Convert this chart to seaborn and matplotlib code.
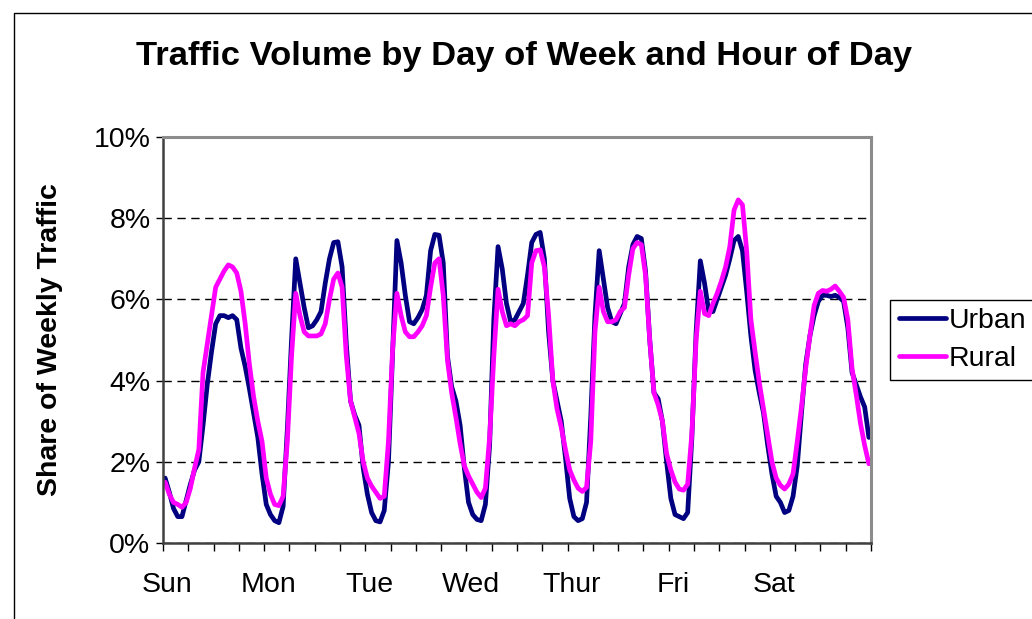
"""Traffic volume share by day of week and hour of day (urban vs rural)"""

import numpy as np
import pandas as pd
import matplotlib
matplotlib.use('Agg')
import matplotlib.pyplot as plt
import seaborn as sns
from matplotlib.lines import Line2D
from matplotlib.patches import Rectangle
from matplotlib.ticker import FixedLocator, FuncFormatter

# Day labels along the x axis
days = ['Sun', 'Mon', 'Tue', 'Wed', 'Thur', 'Fri', 'Sat']

# Hourly share of weekly traffic (%), hour 0..23 per day
urban_sun = [1.6, 1.25, 0.85, 0.65, 0.65, 1.05, 1.45, 1.8, 2.0, 2.9, 3.9, 4.7,
             5.4, 5.6, 5.6, 5.55, 5.6, 5.5, 4.8, 4.35, 3.8, 3.2, 2.6, 1.7]
urban_mon = [0.95, 0.7, 0.55, 0.5, 0.9, 2.8, 5.0, 7.0, 6.4, 5.8, 5.3, 5.35,
             5.5, 5.7, 6.4, 7.0, 7.4, 7.42, 6.8, 4.9, 3.5, 3.15, 2.9, 1.85]
urban_tue = [1.2, 0.75, 0.55, 0.52, 0.8, 2.0, 4.7, 7.45, 6.9, 6.1, 5.45, 5.4,
             5.55, 5.75, 6.1, 7.2, 7.6, 7.58, 6.9, 4.6, 3.85, 3.5, 2.9, 1.85]
urban_wed = [1.0, 0.7, 0.58, 0.55, 0.95, 2.4, 5.5, 7.3, 6.75, 5.9, 5.45, 5.5,
             5.7, 5.9, 6.6, 7.4, 7.6, 7.65, 7.0, 5.2, 4.0, 3.5, 3.0, 2.1]
urban_thu = [1.1, 0.65, 0.55, 0.6, 1.0, 3.1, 5.6, 7.2, 6.5, 5.8, 5.45, 5.4,
             5.65, 5.9, 6.8, 7.35, 7.55, 7.5, 6.7, 5.0, 3.7, 3.55, 3.0, 2.0]
urban_fri = [1.1, 0.7, 0.65, 0.6, 0.75, 2.6, 5.2, 6.95, 6.4, 5.7, 5.7, 6.0,
             6.3, 6.6, 7.0, 7.45, 7.55, 7.2, 6.2, 5.1, 4.25, 3.7, 3.2, 2.4]
urban_sat = [1.7, 1.15, 1.0, 0.75, 0.8, 1.15, 1.9, 3.2, 4.4, 5.1, 5.6, 5.95,
             6.1, 6.1, 6.07, 6.1, 6.05, 5.95, 5.3, 4.2, 3.9, 3.6, 3.35, 2.6]

rural_sun = [1.5, 1.2, 1.0, 0.95, 0.88, 1.0, 1.35, 1.85, 2.3, 4.2, 4.9, 5.6,
             6.3, 6.5, 6.7, 6.85, 6.8, 6.65, 6.2, 5.4, 4.4, 3.6, 3.0, 2.5]
rural_mon = [1.6, 1.2, 0.95, 0.92, 1.15, 2.5, 4.6, 6.15, 5.6, 5.2, 5.1, 5.1,
             5.1, 5.15, 5.4, 6.0, 6.5, 6.65, 6.3, 4.6, 3.5, 3.1, 2.7, 2.0]
rural_tue = [1.6, 1.4, 1.25, 1.1, 1.15, 2.5, 4.8, 6.15, 5.6, 5.2, 5.08, 5.08,
             5.2, 5.35, 5.6, 6.3, 6.9, 7.0, 6.1, 4.5, 3.7, 3.1, 2.45, 1.9]
rural_wed = [1.65, 1.45, 1.25, 1.12, 1.35, 2.6, 4.6, 6.25, 5.7, 5.35, 5.4, 5.35,
             5.45, 5.5, 5.6, 6.9, 7.2, 7.22, 6.8, 5.6, 4.0, 3.3, 2.85, 2.3]
rural_thu = [1.8, 1.55, 1.35, 1.27, 1.37, 2.5, 5.2, 6.3, 5.7, 5.45, 5.45, 5.5,
             5.7, 5.8, 6.6, 7.25, 7.4, 7.35, 6.6, 5.0, 3.7, 3.4, 3.0, 2.2]
rural_fri = [1.8, 1.5, 1.33, 1.3, 1.45, 2.7, 5.0, 6.2, 5.65, 5.6, 5.9, 6.15,
             6.45, 6.8, 7.3, 8.2, 8.45, 8.33, 7.2, 5.5, 4.7, 3.95, 3.3, 2.65]
rural_sat = [2.0, 1.6, 1.42, 1.33, 1.45, 1.7, 2.5, 3.35, 4.3, 5.1, 5.85, 6.15,
             6.22, 6.2, 6.25, 6.33, 6.2, 6.05, 5.5, 4.3, 3.65, 2.95, 2.4, 1.95]

urban = urban_sun + urban_mon + urban_tue + urban_wed + urban_thu + urban_fri + urban_sat
rural = rural_sun + rural_mon + rural_tue + rural_wed + rural_thu + rural_fri + rural_sat

hours = np.arange(len(urban))
df = pd.DataFrame({
    'hour': np.concatenate([hours, hours]),
    'share': urban + rural,
    'area': ['Urban'] * len(urban) + ['Rural'] * len(rural),
})
colors = {'Urban': '#000080', 'Rural': '#FF00FF'}

sns.set_style('white')
plt.rcParams['font.family'] = ['Liberation Sans', 'DejaVu Sans']
plt.rcParams['text.color'] = 'black'
plt.rcParams['xtick.color'] = 'black'
plt.rcParams['ytick.color'] = 'black'
plt.rcParams['axes.labelcolor'] = 'black'

W, H = 1032, 619
fig = plt.figure(figsize=(W / 100, H / 100), dpi=100)
ax = fig.add_axes([163 / W, 1 - 543 / H, 708 / W, 406 / H])

sns.lineplot(data=df, x='hour', y='share', hue='area', palette=colors,
             linewidth=3.4, ax=ax, legend=False, sort=False)

ax.set_xlim(-0.5, 167.5)
ax.set_ylim(0, 10)
ax.set_xlabel('')
ax.set_ylabel('')

# y axis: percent ticks with dashed gridlines
ax.set_yticks(np.arange(0, 11, 2))
ax.yaxis.set_major_formatter(FuncFormatter(lambda v, p: f'{int(v)}%'))
ax.yaxis.grid(True, linestyle=(0, (6, 4)), color='black', linewidth=1)
ax.xaxis.grid(False)

# x axis: tick every 6 hours, day names as label-only minor ticks
ax.xaxis.set_major_locator(FixedLocator(np.arange(-0.5, 168, 6)))
ax.xaxis.set_major_formatter(FuncFormatter(lambda v, p: ''))
ax.xaxis.set_minor_locator(FixedLocator(np.arange(len(days)) * 24 + 0.5))
ax.set_xticklabels(days, minor=True)

ax.tick_params(axis='x', which='major', direction='out', length=6, width=1,
               color='black', bottom=True)
ax.tick_params(axis='x', which='minor', length=0, pad=21, labelsize=20.5,
               labelcolor='black')
ax.tick_params(axis='y', direction='out', length=5, width=1, color='black',
               left=True, pad=4, labelsize=20.5, labelcolor='black')

for side in ['left', 'bottom']:
    ax.spines[side].set_color('#404040')
    ax.spines[side].set_linewidth(1.8)
for side in ['top', 'right']:
    ax.spines[side].set_color('#8c8c8c')
    ax.spines[side].set_linewidth(2.2)

fig.text(524 / W, 1 - 57 / H, 'Traffic Volume by Day of Week and Hour of Day',
         ha='center', va='center', fontsize=24.8, fontweight='bold', color='black')
fig.text(50 / W, 1 - 340 / H, 'Share of Weekly Traffic', rotation=90,
         ha='center', va='center', fontsize=20.5, fontweight='bold', color='black')

handles = [Line2D([], [], color=colors['Urban'], linewidth=3.4),
           Line2D([], [], color=colors['Rural'], linewidth=3.4)]
leg = fig.legend(handles, ['Urban', 'Rural'], loc='center left',
                 bbox_to_anchor=(890 / W, 1 - 340 / H), fontsize=20.5,
                 frameon=True, fancybox=False, framealpha=1, edgecolor='black',
                 handlelength=1.65, handletextpad=0.12, borderpad=0.3,
                 labelspacing=0.4, borderaxespad=0)
leg.get_frame().set_linewidth(1)

# outer chart-area border (top and left edges visible)
fig.patches.append(Rectangle((14 / W, -0.1), 1.2, 1.1 - 13 / H,
                             transform=fig.transFigure, fill=False,
                             edgecolor='black', linewidth=1))

fig.savefig('out.png', dpi=100)
